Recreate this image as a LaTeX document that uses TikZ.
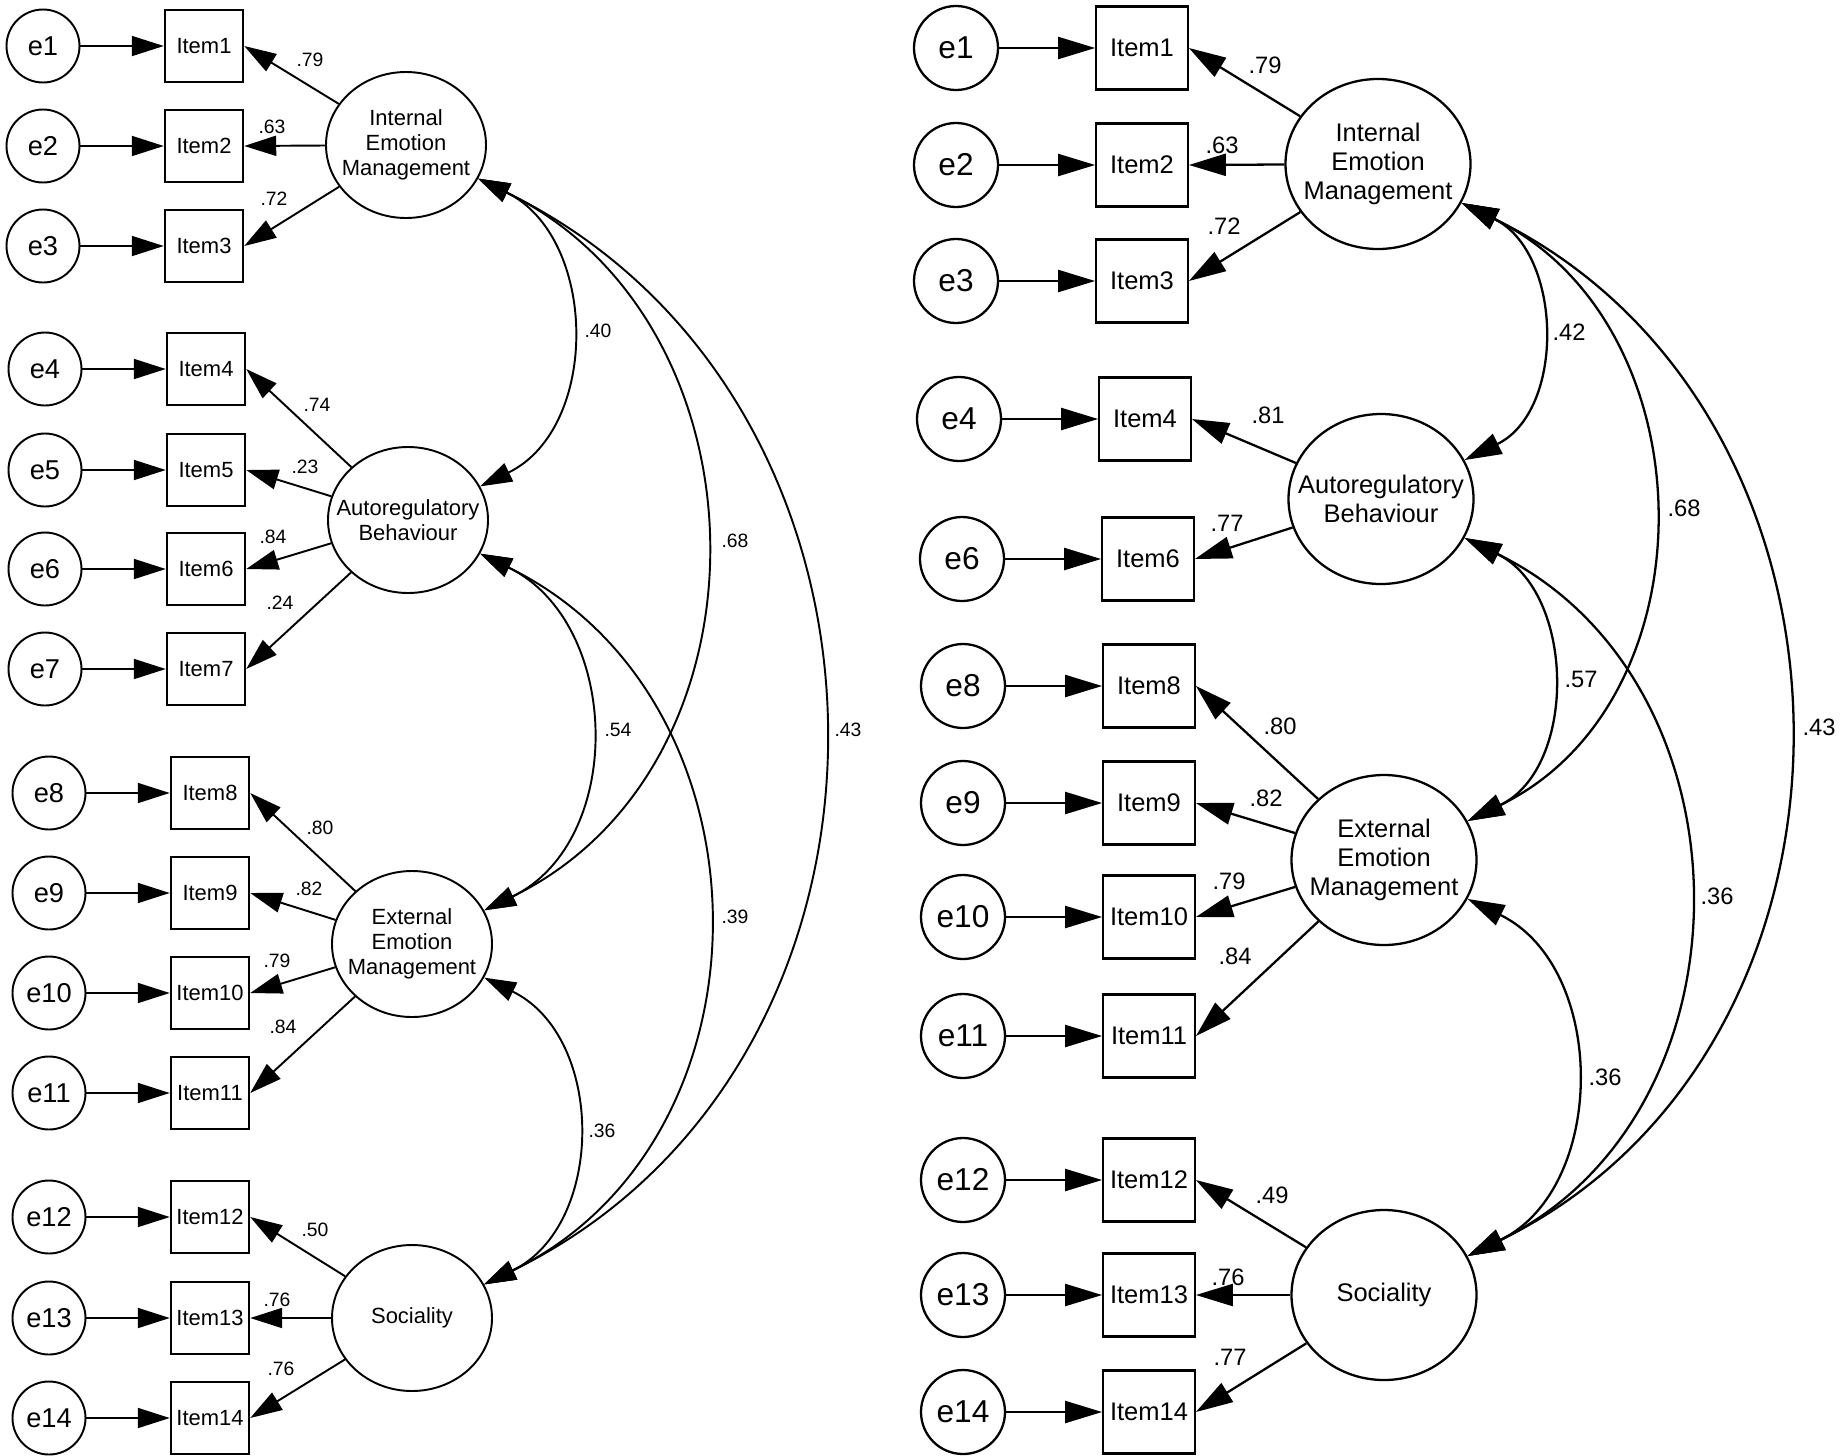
\documentclass[tikz,border=0pt]{standalone}
\usepackage{fontspec}
\setsansfont{Liberation Sans}
\usepackage{tikz}
\usetikzlibrary{shapes.geometric,arrows.meta}
\tikzset{
  semnode/.style = {align=center, inner sep=0pt, text centered,
    font=\sffamily},
  err_s/.style = {semnode, circle, draw=black, minimum size=14.6mm,
    font=\sffamily\fontsize{15.5}{18}\selectfont},% error term, left model
  err_b/.style = {semnode, circle, draw=black, minimum size=16.8mm,
    font=\sffamily\fontsize{18}{21}\selectfont},% error term, right model
  obs_s/.style = {semnode, rectangle, draw=black, minimum width=15.7mm,
    minimum height=14.3mm, font=\sffamily\fontsize{12.5}{15}\selectfont},% item
  obs_b/.style = {semnode, rectangle, draw=black, minimum width=18.3mm,
    minimum height=16.6mm, font=\sffamily\fontsize{14.5}{17}\selectfont},% item
  lat_s/.style = {semnode, ellipse, draw=black, minimum width=32mm,
    minimum height=29.2mm, inner xsep=-3.4mm,
    font=\sffamily\fontsize{12.5}{14.2}\selectfont},% factor
  lat_b/.style = {semnode, ellipse, draw=black, minimum width=37mm,
    minimum height=34mm, inner xsep=-3.8mm,
    font=\sffamily\fontsize{14.5}{16.5}\selectfont},% factor
  val_s/.style = {inner sep=0pt, font=\sffamily\fontsize{11}{13}\selectfont},
  val_b/.style = {inner sep=0pt, font=\sffamily\fontsize{13.5}{16}\selectfont},
  cov/.style = {out=-26, in=26, looseness=#1}% covariance arc
}

\begin{document}
\begin{tikzpicture}[->,x=0.2mm,y=-0.2mm]
\useasboundingbox (0,0) rectangle (1841,1455);

% left model
\begin{scope}[line width=1.1pt, >={Triangle[length=6.4mm,width=4mm]}]
\foreach \n/\x/\y in {1/43/46, 2/43/146, 3/43/246, 4/45/369, 5/45/470,
    6/45/569, 7/45/669, 8/49/793, 9/49/893, 10/49/993, 11/49/1093,
    12/49/1217, 13/49/1318, 14/49/1418}{
  \node [err_s] (le\n) at (\x,\y) {e\n};
  \node [obs_s] (li\n) at ({\x+161},\y) {Item\n};
  \draw (le\n) -- (li\n);
}
\node [lat_s] (liem) at (406,145) {Internal\\Emotion\\Management};
\node [lat_s] (lab) at (408,520) {Autoregulatory\\Behaviour};
\node [lat_s] (leem) at (412,944) {External\\Emotion\\Management};
\node [lat_s] (lsoc) at (412,1318) {Sociality};
\foreach \f/\n/\v/\x/\y in {liem/1/.79/310/60, liem/2/.63/272/127,
    liem/3/.72/274/199, lab/4/.74/317/405, lab/5/.23/305/467,
    lab/6/.84/273/537, lab/7/.24/280/603, leem/8/.80/320/828,
    leem/9/.82/309/889, leem/10/.79/277/961, leem/11/.84/283/1027,
    lsoc/12/.50/315/1230, lsoc/13/.76/277/1300, lsoc/14/.76/281/1369}{
  \draw (\f) -- (li\n.east);
  \node [val_s] (lv\n) at (\x,\y) {\v};
}
\foreach \k/\a/\b/\l/\v/\x/\y in {1/liem/lab/1.11/.40/598/331,
    2/liem/leem/1.15/.68/735/541, 3/liem/lsoc/1.165/.43/848/730,
    4/lab/leem/1.13/.54/618/730, 5/lab/lsoc/1.16/.39/735/917,
    6/leem/lsoc/1.13/.36/602/1131}{
  \draw [<->] (\a.-25) to[cov=\l] (\b.25);
  \node [val_s] (lc\k) at (\x,\y) {\v};
}
\end{scope}

% right model
\begin{scope}[line width=1.3pt, >={Triangle[length=7.4mm,width=4.4mm]}]
\foreach \n/\x/\y in {1/956/48, 2/956/165, 3/956/281, 4/959/419,
    6/962/559, 8/963/686, 9/963/803, 10/963/917, 11/963/1036,
    12/963/1180, 13/963/1295, 14/963/1412}{
  \node [err_b] (re\n) at (\x,\y) {e\n};
  \node [obs_b] (ri\n) at ({\x+186},\y) {Item\n};
  \draw (re\n) -- (ri\n);
}
\node [lat_b] (riem) at (1378,164) {Internal\\Emotion\\Management};
\node [lat_b] (rab) at (1381,499) {Autoregulatory\\Behaviour};
\node [lat_b] (reem) at (1384,860) {External\\Emotion\\Management};
\node [lat_b] (rsoc) at (1384,1295) {Sociality};
\foreach \f/\n/\v/\x/\y in {riem/1/.79/1265/65, riem/2/.63/1222/145,
    riem/3/.72/1224/226, rab/4/.81/1268/415, rab/6/.77/1227/523,
    reem/8/.80/1280/726, reem/9/.82/1266/798, reem/10/.79/1229/881,
    reem/11/.84/1235/956, rsoc/12/.49/1272/1195,
    rsoc/13/.76/1228/1277, rsoc/14/.77/1230/1357}{
  \draw (\f) -- (ri\n.east);
  \node [val_b] (rv\n) at (\x,\y) {\v};
}
\foreach \k/\a/\b/\l/\v/\x/\y in {1/riem/rab/1.12/.42/1569/332,
    2/riem/reem/1.14/.68/1684/508, 3/riem/rsoc/1.155/.43/1819/727,
    4/rab/reem/1.11/.57/1581/679, 5/rab/rsoc/1.16/.36/1717/896,
    6/reem/rsoc/1.12/.36/1605/1077}{
  \draw [<->] (\a.-25) to[cov=\l] (\b.25);
  \node [val_b] (rc\k) at (\x,\y) {\v};
}
\end{scope}
\end{tikzpicture}
\end{document}
